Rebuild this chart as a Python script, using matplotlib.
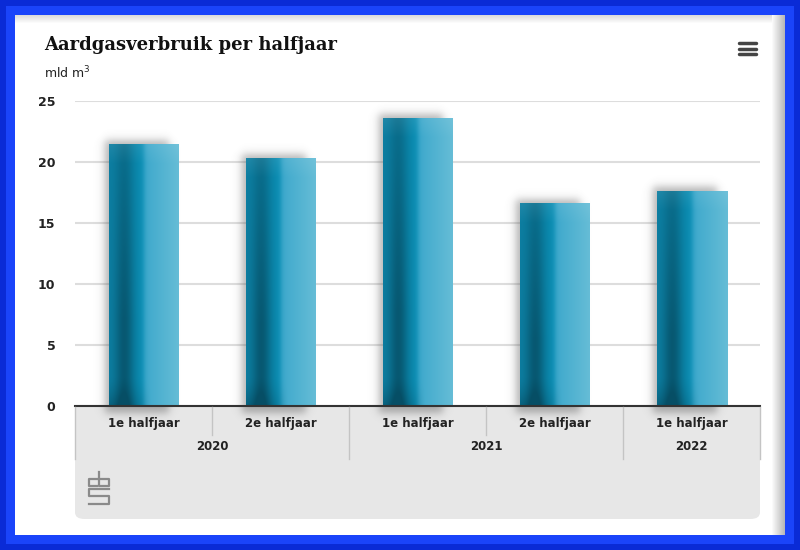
import numpy as np
import matplotlib
matplotlib.use("Agg")
from matplotlib import pyplot as plt
from matplotlib import transforms
from matplotlib.patches import Rectangle, FancyBboxPatch

# data
halves = ['1e halfjaar', '2e halfjaar', '1e halfjaar', '2e halfjaar', '1e halfjaar']
years = ['2020', '2021', '2022']
year_span = [(0, 1), (2, 3), (4, 4)]
values = [21.45, 20.3, 23.6, 16.6, 17.65]
yticks = [0, 5, 10, 15, 20, 25]

W, H = 800, 550
PX_X = 137.0     # pixels per category
PX_Y = 12.2      # pixels per unit on y
BAR_PX = 70


def fx(px):
    return px / W


def fy(px):
    return 1 - px / H


def bg_rect(x0, y0, x1, y1, color, z, alpha=1.0):
    # rectangle in pixel coords (top-left origin) on the figure
    fig.patches.append(Rectangle((fx(x0), fy(y1)), fx(x1 - x0), (y1 - y0) / H,
                                 transform=fig.transFigure, facecolor=color, alpha=alpha,
                                 edgecolor='none', zorder=z))


def soft_box(x, lo, hi, s):
    return 0.5 * (np.tanh((x - lo) / s) - np.tanh((x - hi) / s))


def bar_image(hpx):
    # shaded fill for one bar, built in pixels
    xs = (np.arange(BAR_PX) + 0.5) / BAR_PX
    ys = np.arange(int(hpx))[:, None] + 0.5       # from bottom
    depth = 1 - ys / hpx                          # 0 top, 1 bottom
    mid = np.array([0.04, 0.56, 0.71])
    left = np.array([0.05, 0.50, 0.64])
    dark = np.array([0.02, 0.27, 0.35])
    lt0 = np.array([0.24, 0.66, 0.80])
    lt1 = np.array([0.40, 0.74, 0.84])
    x = xs[None, :]
    base = soft_box(x, 0.5, 2.0, 0.04)[:, :, None]
    w_left = np.clip(x / 0.5, 0, 1)[:, :, None]
    c_left = left * (1 - w_left) + mid * w_left
    w_right = np.clip((x - 0.5) / 0.5, 0, 1)[:, :, None]
    c_right = lt0 * (1 - w_right) + lt1 * w_right
    img = c_left * (1 - base) + c_right * base
    img = np.broadcast_to(img, (len(ys), BAR_PX, 3)).copy()
    # dark band on the left, stronger lower down
    band = np.exp(-((x - 0.22) / 0.14) ** 2) * (0.35 + 0.35 * np.clip(depth * 1.5, 0, 1))
    # dark curve near the bottom
    bot = np.clip(1 - ys / 30.0, 0, 1) ** 1.5 * np.clip(1 - (x / 0.6) ** 2, 0, 1)
    k = np.clip(band + 0.45 * bot, 0, 0.85)[:, :, None]
    img = img * (1 - k) + dark * k
    # slight light at the very top
    top = np.clip(1 - (hpx - ys) / 20.0, 0, 1)[:, :, None] * 0.08
    img = img * (1 - top) + 1 * top
    return np.clip(img, 0, 1)


def shadow_image(hpx, pad=18):
    xs = np.arange(-pad, BAR_PX + pad) + 0.5
    ys = np.arange(-pad, int(hpx) + pad)[:, None] + 0.5
    a = soft_box(xs[None, :], -4, BAR_PX - 10, 5) * soft_box(ys, -7, hpx + 3, 5)
    rgba = np.zeros(a.shape + (4,))
    rgba[..., :3] = 0.3
    rgba[..., 3] = 0.42 * a
    return rgba, pad


fig = plt.figure(figsize=(8, 5.5), dpi=100)
fig.patch.set_facecolor('#1238ee')

# blue frame + white card with shadow on the right and top
bg_rect(0, 0, 800, 550, '#0a2bd6', -10)
bg_rect(6, 6, 794, 544, '#1a44fa', -9)
bg_rect(15, 15, 785, 535, 'white', -8)
for i in range(13):
    g = 1 - 0.28 * (i + 1) / 13
    bg_rect(772 + i, 15, 773 + i, 535, (g, g, g), -7)
for i in range(8):
    g = 0.86 + 0.14 * i / 8
    bg_rect(15, 15 + i, 772, 16 + i, (g, g, g), -7)

ax = fig.add_axes([fx(75), fy(406), fx(685), 305 / H])
ax.set_zorder(1)
ax.set_facecolor('none')
ax.set_xlim(-0.5, len(values) - 0.5)
ax.set_ylim(0, 25)
ax.set_yticks(yticks)
ax.set_yticklabels([str(t) for t in yticks], fontsize=9, fontweight='bold', color='#222222')
ax.tick_params(axis='y', length=0, pad=14)
ax.tick_params(axis='x', length=0, labelbottom=False)
for s in ['top', 'right', 'left']:
    ax.spines[s].set_visible(False)
ax.spines['bottom'].set_color('#333333')
ax.spines['bottom'].set_linewidth(1.5)
ax.spines['bottom'].set_zorder(5)
ax.grid(axis='y', color='#dddddd', linewidth=1.5)
ax.set_axisbelow(True)

bw = BAR_PX / PX_X
bars = ax.bar(range(len(values)), values, width=bw, color='none', zorder=3)
for i, b in enumerate(bars):
    x0 = b.get_x()
    h = b.get_height()
    hpx = h * PX_Y
    sh, pad = shadow_image(hpx)
    p = pad / PX_X
    q = pad / PX_Y
    ims = ax.imshow(sh, extent=(x0 - p, x0 + bw + p, -q, h + q), origin='lower',
                    aspect='auto', zorder=2, interpolation='bilinear')
    ims.set_clip_on(False)
    im = ax.imshow(bar_image(hpx), extent=(x0, x0 + bw, 0, h), origin='lower',
                   aspect='auto', zorder=3, interpolation='bilinear')
    im.set_clip_path(b)
ax.set_xlim(-0.5, len(values) - 0.5)
ax.set_ylim(0, 25)

# category panel below the axis
fig.patches.append(FancyBboxPatch((fx(75), fy(519)), fx(685), 100 / H,
                                  boxstyle='round,pad=0,rounding_size=0.012',
                                  transform=fig.transFigure, facecolor='#e7e7e7',
                                  edgecolor='none', zorder=-5))
bg_rect(75, 406, 760, 460, '#e7e7e7', -5)

tr = transforms.blended_transform_factory(ax.transData, fig.transFigure)
for i, lab in enumerate(halves):
    ax.text(i, fy(423), lab, transform=tr, ha='center', va='center', fontsize=8.5,
            fontweight='bold', color='#222222', clip_on=False, zorder=6)
for (a, b), yr in zip(year_span, years):
    ax.text((a + b) / 2, fy(446), yr, transform=tr, ha='center', va='center', fontsize=8.5,
            fontweight='bold', color='#222222', clip_on=False, zorder=6)
# dividers
for i in range(len(values) + 1):
    x = i - 0.5
    full = x in (-0.5, 1.5, 3.5, 4.5)
    y1 = fy(459) if full else fy(435)
    ax.plot([x, x], [fy(407), y1], transform=tr, color='#c4c4c4', linewidth=1,
            clip_on=False, zorder=6)

# title and unit
fig.text(fx(44), fy(45), 'Aardgasverbruik per halfjaar', fontsize=13, fontweight='bold',
         family='DejaVu Serif', color='#111111', va='center')
fig.text(fx(44), fy(73), 'mld m$^3$', fontsize=9, color='#222222', va='center')

# menu icon
for yy in [43, 48.5, 54]:
    fig.add_artist(plt.Line2D([fx(739), fx(756)], [fy(yy), fy(yy)], color='#444444',
                              linewidth=2.5, solid_capstyle='round'))

# cbs logo (rough)
lx = [
    ([97, 89, 89, 97], [479, 479, 486, 486]),
    ([99, 99, 109, 109, 99], [472, 486, 486, 479, 479]),
    ([109, 89, 89, 109, 109, 89], [489, 489, 496, 496, 504, 504]),
]
for xs, ys in lx:
    fig.add_artist(plt.Line2D([fx(v) for v in xs], [fy(v) for v in ys], color='#8a8a8a',
                              linewidth=1.6))

fig.savefig('out.png', dpi=100, facecolor=fig.get_facecolor())
